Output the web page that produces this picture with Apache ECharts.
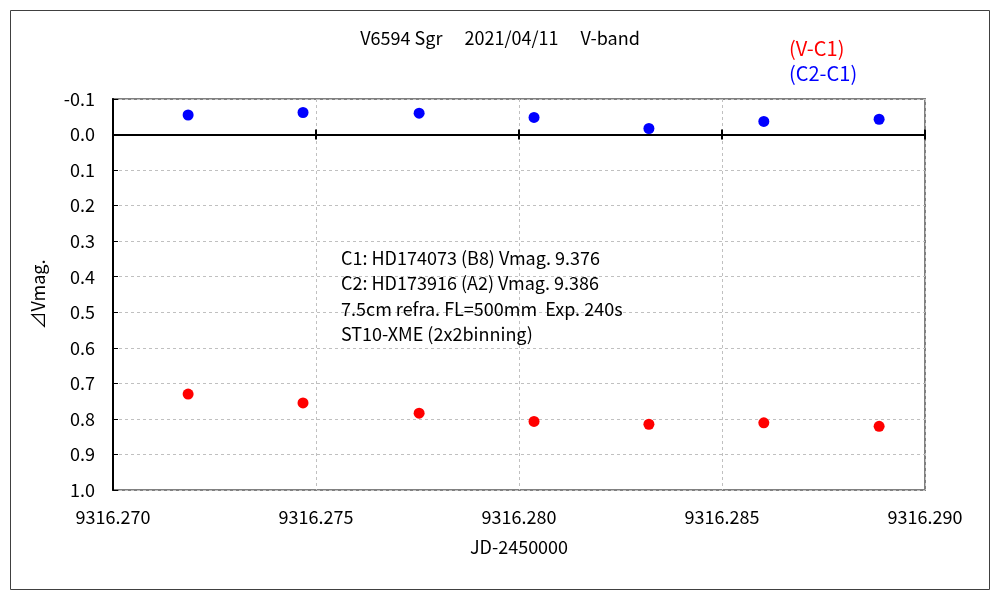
<!DOCTYPE html>
<html>
<head>
<meta charset="utf-8">
<script src="https://cdn.jsdelivr.net/npm/echarts@6/dist/echarts.min.js"></script>
<style>html,body{margin:0;padding:0;background:#fff}#c{width:1000px;height:600px}</style>
</head>
<body>
<div id="c"></div>
<script>
const jd = [9316.27185, 9316.27468, 9316.27754, 9316.28037, 9316.28320, 9316.28603, 9316.28887];
const vMinusC1 = [0.730, 0.755, 0.784, 0.807, 0.815, 0.811, 0.821];
const c2MinusC1 = [-0.055, -0.062, -0.060, -0.048, -0.017, -0.037, -0.043];
const seriesNames = ['(V-C1)', '(C2-C1)'];
const titleText = 'V6594 Sgr\u3000 2021/04/11\u3000 V-band';
const noteLines = [
  'C1: HD174073 (B8) Vmag. 9.376',
  'C2: HD173916 (A2) Vmag. 9.386',
  '7.5cm refra. FL=500mm  Exp. 240s',
  'ST10-XME (2x2binning)'
];
const xName = 'JD-2450000';
const yName = '\u22BFVmag.';

const FONT = '"Noto Sans CJK JP", "DejaVu Sans", sans-serif';
const chart = echarts.init(document.getElementById('c'), null, {renderer: 'canvas'});

const xCommon = {
  type: 'value', min: 9316.270, max: 9316.290, interval: 0.005
};

chart.setOption({
  animation: false,
  backgroundColor: '#fff',
  textStyle: {fontFamily: FONT},
  title: {
    text: titleText, left: 'center', top: 24,
    textStyle: {fontSize: 18, fontWeight: 'normal', color: '#000', fontFamily: FONT}
  },
  legend: {
    orient: 'vertical', left: 784, top: 38, itemGap: 5, padding: 0,
    icon: 'none', itemWidth: 0, itemHeight: 0,
    data: [
      {name: seriesNames[0], textStyle: {color: '#ff0000'}},
      {name: seriesNames[1], textStyle: {color: '#0000ff'}}
    ],
    textStyle: {fontSize: 20, fontFamily: FONT}, selectedMode: false
  },
  grid: {
    left: 113, top: 99, right: 75, bottom: 110,
    show: true, borderColor: '#808080', borderWidth: 2, backgroundColor: 'transparent'
  },
  xAxis: [
    Object.assign({}, xCommon, {
      position: 'bottom',
      name: xName, nameLocation: 'middle', nameGap: 48,
      nameTextStyle: {fontSize: 18, color: '#000', fontFamily: FONT},
      axisLine: {show: false, onZero: false},
      axisTick: {show: false},
      axisLabel: {
        fontSize: 18, color: '#000', margin: 18, fontFamily: FONT,
        formatter: v => v.toFixed(3)
      },
      splitLine: {show: true, lineStyle: {color: '#c0c0c0', type: [3, 3], width: 1}}
    }),
    Object.assign({}, xCommon, {
      position: 'top',
      axisLine: {show: true, onZero: true, onZeroAxisIndex: 0, lineStyle: {color: '#000', width: 2}},
      axisTick: {show: true, inside: true, length: 5, lineStyle: {color: '#000', width: 2}},
      axisLabel: {show: false},
      splitLine: {show: false}
    }),
    Object.assign({}, xCommon, {
      position: 'top',
      axisLine: {show: true, onZero: true, onZeroAxisIndex: 0, lineStyle: {color: '#000', width: 2}},
      axisTick: {show: true, inside: false, length: 5, lineStyle: {color: '#000', width: 2}},
      axisLabel: {show: false},
      splitLine: {show: false}
    })
  ],
  yAxis: {
    type: 'value', inverse: true, min: -0.1, max: 1.0, interval: 0.1,
    name: yName, nameLocation: 'middle', nameGap: 66,
    nameTextStyle: {fontSize: 18, color: '#000', fontFamily: FONT},
    axisLine: {show: true, lineStyle: {color: '#000', width: 2}},
    axisTick: {show: true, inside: true, length: 5, lineStyle: {color: '#000', width: 1}},
    axisLabel: {
      fontSize: 18, color: '#000', margin: 18, fontFamily: FONT,
      formatter: v => v.toFixed(1)
    },
    splitLine: {show: true, lineStyle: {color: '#c0c0c0', type: [3, 3], width: 1}}
  },
  graphic: [
    {
      type: 'rect', z: -1, silent: true,
      shape: {x: 10.5, y: 10.5, width: 979, height: 579},
      style: {fill: 'none', stroke: '#404040', lineWidth: 1}
    },
    {
      type: 'text', left: 341, top: 245, z: 10,
      style: {
        text: noteLines.join('\n'), fill: '#000',
        font: '18px ' + FONT, lineHeight: 25.5
      }
    }
  ],
  series: [
    {
      name: seriesNames[0], type: 'scatter', xAxisIndex: 0,
      symbol: 'circle', symbolSize: 11,
      itemStyle: {color: '#ff0000', opacity: 1},
      data: jd.map((x, i) => [x, vMinusC1[i]])
    },
    {
      name: seriesNames[1], type: 'scatter', xAxisIndex: 0,
      symbol: 'circle', symbolSize: 11,
      itemStyle: {color: '#0000ff', opacity: 1},
      data: jd.map((x, i) => [x, c2MinusC1[i]])
    }
  ]
});
</script>
</body>
</html>
